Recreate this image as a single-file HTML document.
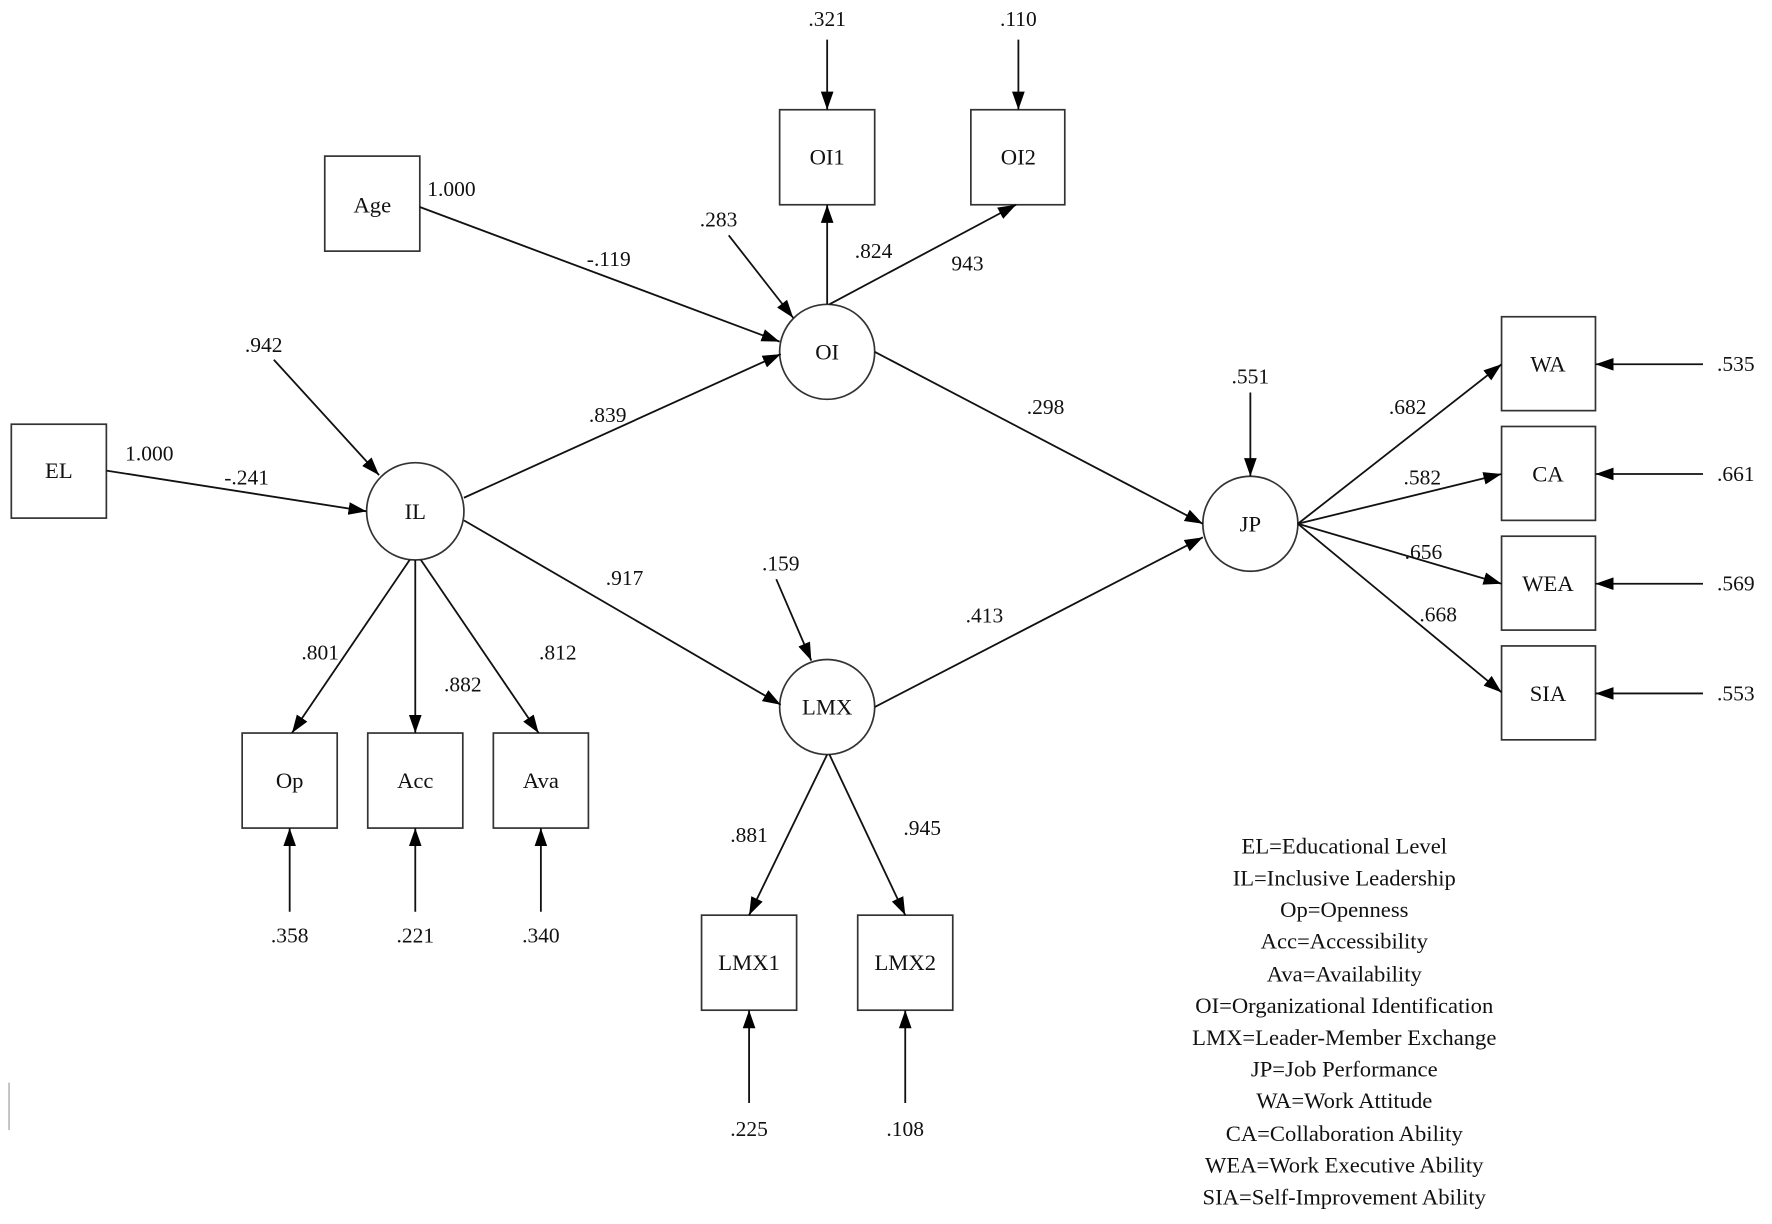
<!DOCTYPE html>
<html><head><meta charset="utf-8"><style>
html,body{margin:0;padding:0;background:#fff;}
svg{display:block;}
text{font-family:"Liberation Serif",serif;fill:#111;}
</style></head><body>
<svg width="1772" height="1224" viewBox="0 0 1566 1082" preserveAspectRatio="none" xmlns="http://www.w3.org/2000/svg">
<defs>
<marker id="a" viewBox="0 0 10 10" refX="10" refY="5" markerWidth="9" markerHeight="9" markerUnits="userSpaceOnUse" orient="auto"><path d="M0,0 L10,5 L0,10 z" fill="#000"/></marker>
<marker id="b" viewBox="0 0 10 10" refX="10" refY="5" markerWidth="16" markerHeight="16" markerUnits="userSpaceOnUse" orient="auto"><path d="M0,1.5 L10,5 L0,8.5 z" fill="#000"/></marker>
</defs>
<g fill="none" stroke="#333" stroke-width="1.5">
<rect x="10" y="375" width="84" height="83"/>
<rect x="287" y="138" width="84" height="84"/>
<rect x="689" y="97" width="84" height="84"/>
<rect x="858" y="97" width="83" height="84"/>
<rect x="214" y="648" width="84" height="84"/>
<rect x="325" y="648" width="84" height="84"/>
<rect x="436" y="648" width="84" height="84"/>
<rect x="620" y="809" width="84" height="84"/>
<rect x="758" y="809" width="84" height="84"/>
<rect x="1327" y="280" width="83" height="83"/>
<rect x="1327" y="377" width="83" height="83"/>
<rect x="1327" y="474" width="83" height="83"/>
<rect x="1327" y="571" width="83" height="83"/>
<circle cx="731" cy="311" r="42"/>
<circle cx="367" cy="452" r="43"/>
<circle cx="731" cy="625" r="42"/>
<circle cx="1105" cy="463" r="42"/>
</g>
<g stroke="#111" stroke-width="1.6" marker-end="url(#b)">
<line x1="731" y1="35" x2="731" y2="97"/>
<line x1="900" y1="35" x2="900" y2="97"/>
<line x1="644" y1="208" x2="701" y2="281"/>
<line x1="242" y1="318" x2="335" y2="420"/>
<line x1="686" y1="512" x2="717" y2="584"/>
<line x1="1105" y1="347" x2="1105" y2="421"/>
<line x1="256" y1="806" x2="256" y2="732"/>
<line x1="367" y1="806" x2="367" y2="732"/>
<line x1="478" y1="806" x2="478" y2="732"/>
<line x1="662" y1="975" x2="662" y2="893"/>
<line x1="800" y1="975" x2="800" y2="893"/>
<line x1="1505" y1="322" x2="1410" y2="322"/>
<line x1="1505" y1="419" x2="1410" y2="419"/>
<line x1="1505" y1="516" x2="1410" y2="516"/>
<line x1="1505" y1="613" x2="1410" y2="613"/>
<line x1="371" y1="183" x2="689" y2="302"/>
<line x1="94" y1="416" x2="324" y2="452"/>
<line x1="410" y1="440" x2="690" y2="313"/>
<line x1="410" y1="460" x2="690" y2="623"/>
<line x1="362" y1="495" x2="258" y2="648"/>
<line x1="367" y1="495" x2="367" y2="648"/>
<line x1="372" y1="495" x2="476" y2="648"/>
<line x1="731" y1="269" x2="731" y2="181"/>
<line x1="733" y1="269" x2="898" y2="181"/>
<line x1="773" y1="311" x2="1063" y2="463"/>
<line x1="773" y1="625" x2="1063" y2="475"/>
<line x1="731" y1="667" x2="662" y2="809"/>
<line x1="733" y1="667" x2="800" y2="809"/>
<line x1="1147" y1="463" x2="1327" y2="322"/>
<line x1="1147" y1="463" x2="1327" y2="419"/>
<line x1="1147" y1="463" x2="1327" y2="516"/>
<line x1="1147" y1="463" x2="1327" y2="612"/>
</g>
<line x1="8" y1="957" x2="8" y2="999" stroke="#bbb" stroke-width="1.5"/>
<g font-size="20" text-anchor="middle" dominant-baseline="central">
<text x="52" y="416">EL</text>
<text x="329" y="181">Age</text>
<text x="731" y="139">OI1</text>
<text x="900" y="139">OI2</text>
<text x="731" y="311">OI</text>
<text x="367" y="452">IL</text>
<text x="731" y="625">LMX</text>
<text x="1105" y="463">JP</text>
<text x="256" y="690">Op</text>
<text x="367" y="690">Acc</text>
<text x="478" y="690">Ava</text>
<text x="662" y="851">LMX1</text>
<text x="800" y="851">LMX2</text>
<text x="1368" y="322">WA</text>
<text x="1368" y="419">CA</text>
<text x="1368" y="516">WEA</text>
<text x="1368" y="613">SIA</text>
</g>
<g font-size="19" text-anchor="middle" dominant-baseline="central">
<text x="731" y="17">.321</text>
<text x="900" y="17">.110</text>
<text x="635" y="194">.283</text>
<text x="233" y="305">.942</text>
<text x="690" y="498">.159</text>
<text x="1105" y="333">.551</text>
<text x="256" y="827">.358</text>
<text x="367" y="827">.221</text>
<text x="478" y="827">.340</text>
<text x="662" y="998">.225</text>
<text x="800" y="998">.108</text>
<text x="1534" y="322">.535</text>
<text x="1534" y="419">.661</text>
<text x="1534" y="516">.569</text>
<text x="1534" y="613">.553</text>
<text x="399" y="167">1.000</text>
<text x="538" y="229">-.119</text>
<text x="132" y="401">1.000</text>
<text x="218" y="422">-.241</text>
<text x="537" y="367">.839</text>
<text x="552" y="511">.917</text>
<text x="283" y="577">.801</text>
<text x="409" y="605">.882</text>
<text x="493" y="577">.812</text>
<text x="772" y="222">.824</text>
<text x="855" y="233">943</text>
<text x="924" y="360">.298</text>
<text x="870" y="544">.413</text>
<text x="662" y="738">.881</text>
<text x="815" y="732">.945</text>
<text x="1244" y="360">.682</text>
<text x="1257" y="422">.582</text>
<text x="1258" y="488">.656</text>
<text x="1271" y="543">.668</text>
</g>
<g font-size="20" text-anchor="middle" dominant-baseline="central">
<text x="1188" y="748">EL=Educational Level</text>
<text x="1188" y="776">IL=Inclusive Leadership</text>
<text x="1188" y="804">Op=Openness</text>
<text x="1188" y="832">Acc=Accessibility</text>
<text x="1188" y="861">Ava=Availability</text>
<text x="1188" y="889">OI=Organizational Identification</text>
<text x="1188" y="917">LMX=Leader-Member Exchange</text>
<text x="1188" y="945">JP=Job Performance</text>
<text x="1188" y="973">WA=Work Attitude</text>
<text x="1188" y="1002">CA=Collaboration Ability</text>
<text x="1188" y="1030">WEA=Work Executive Ability</text>
<text x="1188" y="1058">SIA=Self-Improvement Ability</text>
</g>
</svg>
</body></html>
